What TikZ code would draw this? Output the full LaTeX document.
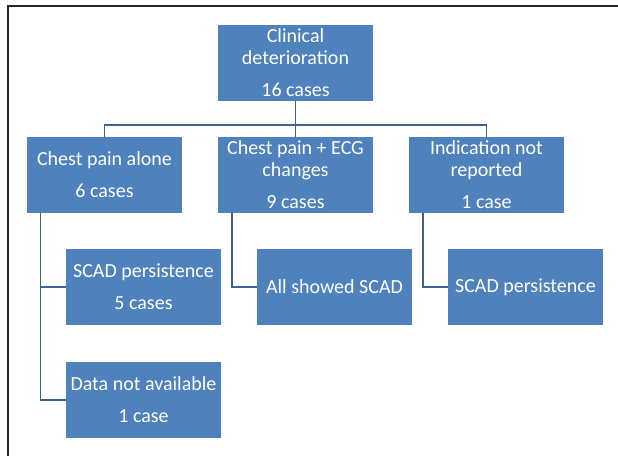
\documentclass[tikz,border=0pt]{standalone}
\usepackage{fontspec}
\setmainfont{Carlito}
\definecolor{BoxBlue}{HTML}{4F81BD}
\definecolor{LineBlue}{HTML}{3B6190}
\definecolor{FrameGray}{HTML}{262626}
\usetikzlibrary{positioning}

\begin{document}
\begin{tikzpicture}[x=1pt, y=1pt,
      box/.style={fill=BoxBlue, text=white, align=center, inner sep=0pt,
         minimum width=155pt, minimum height=76pt,
         font=\fontsize{20}{22}\selectfont},
      conn/.style={LineBlue, line width=1.4pt}]
            \useasboundingbox (0,0) rectangle (618,-456);
            % Frame
            \draw[FrameGray, line width=2pt] (7.5,-456) -- (7.5,-5.5) -- (618,-5.5);
            % Top
            \node[box] (clin) at (295.5,-63) {Clinical\\deterioration\\[10pt]16 cases};
            % Indications
            \node[box] (cpa) at (104.5,-175) {Chest pain alone\\[10pt]6 cases};
            \node[box] (cpe) at (295.5,-175) {Chest pain + ECG\\changes\\[10pt]9 cases};
            \node[box] (ind) at (486.5,-175) {Indication not\\reported\\[10pt]1 case};
            % Outcomes
            \node[box] (scada) at (143.5,-287) {SCAD persistence\\[10pt]5 cases};
            \node[box] (nodata) at (143.5,-400) {Data not available\\[10pt]1 case};
            \node[box] (allscad) at (334.5,-287) {All showed SCAD};
            \node[box] (scadb) at (525.5,-287) {SCAD persistence};
            % Connectors
            \draw[conn] (clin.south) -- (cpe.north);
            \draw[conn] (cpa.north) -- ++(0,12) -| (ind.north);
            \draw[conn] ([xshift=13.5pt]cpa.south west) |- (scada.west);
            \draw[conn] ([xshift=13.5pt]cpa.south west) |- (nodata.west);
            \draw[conn] ([xshift=14pt]cpe.south west) |- (allscad.west);
            \draw[conn] ([xshift=14pt]ind.south west) |- (scadb.west);
         \end{tikzpicture}
\end{document}
